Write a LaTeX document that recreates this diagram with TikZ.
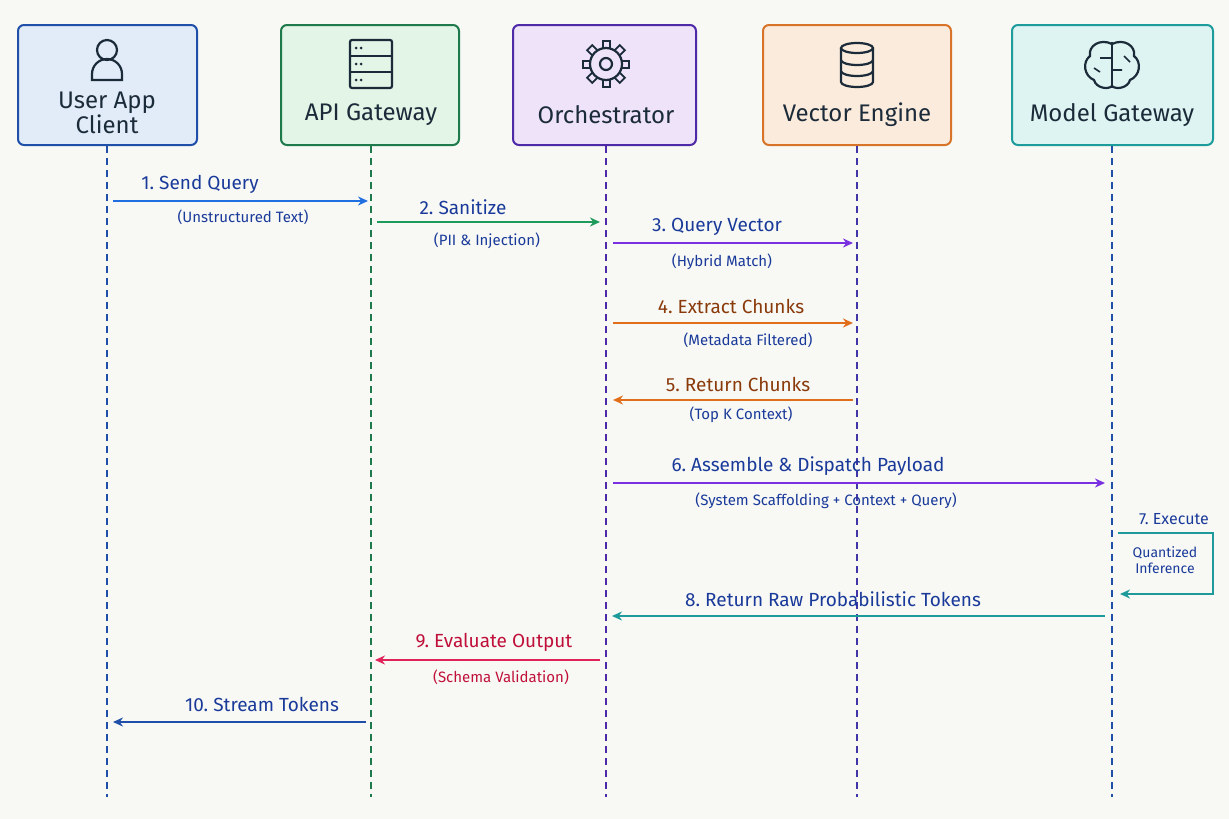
\documentclass[tikz,border=0pt]{standalone}
\usepackage{fontspec}
\setmainfont{Fira Sans}
\usetikzlibrary{arrows.meta}
\definecolor{bg}{HTML}{F8F9F5}
\definecolor{cblue}{HTML}{1F4FA8}\definecolor{fblue}{HTML}{E1ECF8}
\definecolor{cgreen}{HTML}{1E7A4A}\definecolor{fgreen}{HTML}{E2F5E6}
\definecolor{cpurp}{HTML}{4F2AA8}\definecolor{fpurp}{HTML}{EEE3F8}
\definecolor{corange}{HTML}{D8742A}\definecolor{forange}{HTML}{FBEBDC}
\definecolor{cteal}{HTML}{1E9C9C}\definecolor{fteal}{HTML}{DEF4F2}
\definecolor{ink}{HTML}{1C2B3A}
\definecolor{a1}{HTML}{1F6FE0}\definecolor{a2}{HTML}{1E9A5A}\definecolor{a3}{HTML}{7A2FE0}
\definecolor{a4}{HTML}{E06E1A}\definecolor{a8}{HTML}{1E9A9A}\definecolor{a9}{HTML}{E0245A}
\definecolor{t1}{HTML}{1A3A9A}\definecolor{t4}{HTML}{8A3A0A}\definecolor{t9}{HTML}{C0103A}
\tikzset{
 box/.style={draw, line width=2pt, rounded corners=6pt},
 life/.style={dashed, dash pattern=on 7pt off 5pt, line width=1.3pt},
 msg/.style={-{Stealth[length=10pt,width=9pt]}, line width=1.8pt},
 lbl/.style={font=\fontsize{19}{21}\selectfont},
 sub/.style={font=\fontsize{15}{17}\selectfont},
 ttl/.style={font=\fontsize{24}{25}\selectfont, text=ink, align=center},
 ic/.style={draw=ink, line width=2.2pt}
}
\begin{document}
\begin{tikzpicture}[x=1pt,y=-1pt]
\fill[bg] (0,0) rectangle (1229,819);
\useasboundingbox (0,0) rectangle (1229,819);
% boxes
\draw[box, draw=cblue, fill=fblue] (18,25) rectangle (197,145);
\draw[box, draw=cgreen, fill=fgreen] (281,25) rectangle (459,145);
\draw[box, draw=cpurp, fill=fpurp] (513,25) rectangle (696,145);
\draw[box, draw=corange, fill=forange] (763,25) rectangle (951,145);
\draw[box, draw=cteal, fill=fteal] (1012,25) rectangle (1213,145);
\node[ttl] (u) at (107,113) {User App\\Client};
\node[ttl] (g) at (371,115) {API Gateway};
\node[ttl] (o) at (606,115) {Orchestrator};
\node[ttl] (v) at (857,115) {Vector Engine};
\node[ttl] (m) at (1112,115) {Model Gateway};
% icons
\draw[ic] (107,50) circle (10);
\draw[ic] (92,80) -- (92,74) arc[start angle=180,end angle=360,radius=15] -- (122,80) -- cycle;
\draw[ic, rounded corners=2] (350,40) rectangle (392,88);
\draw[ic] (350,56)--(392,56) (350,72)--(392,72);
\foreach \yy in {48,64,80}{\fill[ink] (356,\yy) circle (1.5) (361,\yy) circle (1.5);}
\foreach \a in {0,45,...,315}{\draw[ink, line width=9pt] (606,64) ++(\a:15) -- ++(\a:9);
  \draw[fpurp, line width=5pt] (606,64) ++(\a:14) -- ++(\a:8);}
\fill[fpurp] (606,64) circle (16);
\draw[ic] (606,64) circle (16);
\draw[ic] (606,64) circle (6);
\draw[ic] (841,48) -- (841,82) arc[start angle=180,end angle=0,x radius=16,y radius=5] -- (873,48);
\draw[ic] (857,48) ellipse (16 and 5);
\draw[ic] (841,60) arc[start angle=180,end angle=0,x radius=16,y radius=5];
\draw[ic] (841,71) arc[start angle=180,end angle=0,x radius=16,y radius=5];
\draw[ic] (1112,42) -- (1112,88);
\draw[ic] (1112,44) .. controls (1100,38) and (1088,46) .. (1090,56) .. controls (1082,62) and (1084,76) .. (1094,80) .. controls (1096,88) and (1108,90) .. (1112,86);
\draw[ic] (1112,44) .. controls (1124,38) and (1136,46) .. (1134,56) .. controls (1142,62) and (1140,76) .. (1130,80) .. controls (1128,88) and (1116,90) .. (1112,86);
\draw[ic, line width=1.6pt] (1112,58) -- (1100,58) (1112,70)--(1122,70) (1124,56)--(1130,62) (1100,72)--(1094,68);
% lifelines
\coordinate (ue) at (107,797); \coordinate (ge) at (371,797); \coordinate (oe) at (606,797);
\coordinate (ve) at (857,797); \coordinate (me) at (1112,797);
\draw[life, cblue] (107,146) -- (ue);
\draw[life, cgreen] (371,146) -- (ge);
\draw[life, cpurp] (606,146) -- (oe);
\draw[life, cpurp!70!cblue] (857,146) -- (ve);
\draw[life, cblue] (1112,146) -- (me);
% messages
\coordinate (m1a) at (113,201); \coordinate (m1b) at (368,201);
\draw[msg,a1] (m1a) -- (m1b);
\node[lbl,text=t1] (l1) at (200,184) {1.\ Send Query};
\node[sub,text=t1] (s1) at (243,217) {(Unstructured Text)};
\coordinate (m2a) at (377,222); \coordinate (m2b) at (600,222);
\draw[msg,a2] (m2a) -- (m2b);
\node[lbl,text=t1] (l2) at (463,207) {2.\ Sanitize};
\node[sub,text=t1] (s2) at (487,241) {(PII \& Injection)};
\coordinate (m3a) at (613,243); \coordinate (m3b) at (853,243);
\draw[msg,a3] (m3a) -- (m3b);
\node[lbl,text=t1] (l3) at (717,227) {3.\ Query Vector};
\node[sub,text=t1] (s3) at (722,262) {(Hybrid Match)};
\coordinate (m4a) at (613,323); \coordinate (m4b) at (853,323);
\draw[msg,a4] (m4a) -- (m4b);
\node[lbl,text=t4] (l4) at (731,306) {4.\ Extract Chunks};
\node[sub,text=t1] (s4) at (748,340) {(Metadata Filtered)};
\coordinate (m5a) at (853,400); \coordinate (m5b) at (613,400);
\draw[msg,a4] (m5a) -- (m5b);
\node[lbl,text=t4] (l5) at (738,384) {5.\ Return Chunks};
\node[sub,text=t1] (s5) at (741,415) {(Top K Context)};
\coordinate (m6a) at (613,483); \coordinate (m6b) at (1105,483);
\draw[msg,a3] (m6a) -- (m6b);
\node[lbl,text=t1] (l6) at (808,466) {6.\ Assemble \& Dispatch Payload};
\node[sub,text=t1] (s6) at (826,501) {(System Scaffolding + Context + Query)};
\coordinate (m7a) at (1118,533); \coordinate (m7b) at (1120,594);
\draw[msg,a8] (m7a) -- (1213,533) -- (1213,594) -- (m7b);
\node[text=t1,font=\fontsize{16}{17}\selectfont] (l7) at (1174,519) {7.\ Execute};
\node[text=t1,align=center,font=\fontsize{14}{16}\selectfont] (s7) at (1165,560) {Quantized\\Inference};
\coordinate (m8a) at (1105,616); \coordinate (m8b) at (612,616);
\draw[msg,a8] (m8a) -- (m8b);
\node[lbl,text=t1] (l8) at (833,599) {8.\ Return Raw Probabilistic Tokens};
\coordinate (m9a) at (600,660); \coordinate (m9b) at (375,660);
\draw[msg,a9] (m9a) -- (m9b);
\node[lbl,text=t9] (l9) at (494,642) {9.\ Evaluate Output};
\node[sub,text=t9] (s9) at (501,677) {(Schema Validation)};
\coordinate (m10a) at (366,722); \coordinate (m10b) at (113,722);
\draw[msg,cblue] (m10a) -- (m10b);
\node[lbl,text=t1] (l10) at (262,704) {10.\ Stream Tokens};
\end{tikzpicture}
\end{document}
